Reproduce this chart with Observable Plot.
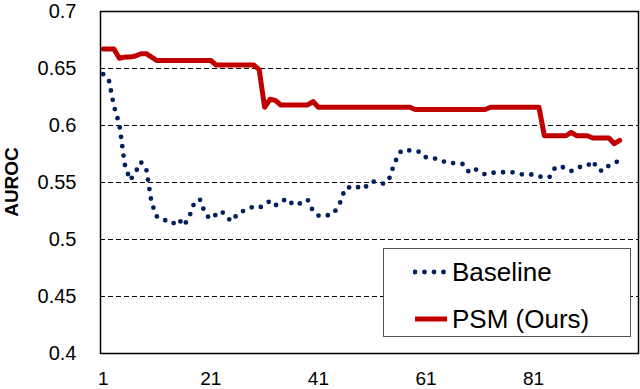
<!DOCTYPE html>
<html>
<head>
<meta charset="utf-8">
<script src="https://cdn.jsdelivr.net/npm/d3@7"></script>
<script src="https://cdn.jsdelivr.net/npm/@observablehq/plot@0.6"></script>
<style>
  html, body { margin: 0; padding: 0; background: #fff; }
  #wrap { position: relative; width: 640px; height: 389px; font-family: "Liberation Sans", Arial, sans-serif; }
  #wrap svg.plot { position: absolute; left: 0; top: 0; }
  #ylabel { position: absolute; left: 12px; top: 182px; transform: translate(-50%, -50%) rotate(-90deg);
            font-weight: bold; font-size: 19px; white-space: nowrap; color: #000; }
  #legend { position: absolute; left: 383px; top: 248px; width: 246px; height: 87px;
            border: 1px solid #555; background: #fff; box-sizing: content-box; }
  .row { position: absolute; left: 29px; height: 32px; display: flex; align-items: center; }
  .row span { font-size: 26px; color: #000; margin-left: 3px; white-space: nowrap; }
</style>
</head>
<body>
<div id="wrap"></div>
<script>
// ---- data ----
const epochs = [1,2,3,4,5,6,7,8,9,10,11,12,13,14,15,16,17,18,19,20,
  21,22,23,24,25,26,27,28,29,30,31,32,33,34,35,36,37,38,39,40,
  41,42,43,44,45,46,47,48,49,50,51,52,53,54,55,56,57,58,59,60,
  61,62,63,64,65,66,67,68,69,70,71,72,73,74,75,76,77,78,79,80,
  81,82,83,84,85,86,87,88,89,90,91,92,93,94,95,96,97];

const baseline = [0.645,0.641,0.617,0.601,0.566,0.552,0.559,0.568,0.562,0.532,
  0.520,0.519,0.515,0.514,0.518,0.512,0.520,0.533,0.535,0.522,
  0.518,0.522,0.525,0.519,0.516,0.523,0.525,0.527,0.529,0.528,
  0.530,0.534,0.530,0.532,0.536,0.532,0.530,0.533,0.535,0.525,
  0.521,0.522,0.521,0.524,0.532,0.545,0.546,0.547,0.544,0.547,
  0.551,0.550,0.549,0.551,0.565,0.576,0.579,0.578,0.577,0.577,
  0.572,0.571,0.571,0.569,0.567,0.567,0.567,0.566,0.559,0.562,
  0.560,0.557,0.558,0.559,0.559,0.559,0.559,0.558,0.557,0.557,
  0.557,0.5555,0.554,0.555,0.563,0.5645,0.562,0.560,0.563,0.564,
  0.5645,0.569,0.561,0.560,0.565,0.567,0.5695];

const psm = [0.667,0.667,0.667,0.659,0.660,0.660,0.661,0.663,0.663,0.660,
  0.657,0.657,0.657,0.657,0.657,0.657,0.657,0.657,0.657,0.657,
  0.657,0.653,0.653,0.653,0.653,0.653,0.653,0.653,0.653,0.649,
  0.616,0.623,0.622,0.618,0.618,0.618,0.618,0.618,0.618,0.621,
  0.616,0.616,0.616,0.616,0.616,0.616,0.616,0.616,0.616,0.616,
  0.616,0.616,0.616,0.616,0.616,0.616,0.616,0.616,0.614,0.614,
  0.614,0.614,0.614,0.614,0.614,0.614,0.614,0.614,0.614,0.614,
  0.614,0.614,0.616,0.616,0.616,0.616,0.616,0.616,0.616,0.616,
  0.616,0.616,0.591,0.591,0.591,0.591,0.591,0.594,0.591,0.591,
  0.591,0.589,0.589,0.589,0.589,0.584,0.587];

const xTicks = [1, 21, 41, 61, 81];
const yTicks = [0.4, 0.45, 0.5, 0.55, 0.6, 0.65, 0.7];
const gridLines = [0.45, 0.5, 0.55, 0.6, 0.65];
const seriesNames = ["Baseline", "PSM (Ours)"];
const seriesColors = ["#002060", "#C00000"];

const rowsB = epochs.map((e, i) => ({epoch: e, v: baseline[i]}));
const rowsP = epochs.map((e, i) => ({epoch: e, v: psm[i]}));

const chart = Plot.plot({
  width: 640,
  height: 389,
  marginTop: 11,
  marginBottom: 36,
  marginLeft: 100,
  marginRight: 2,
  style: {fontFamily: '"Liberation Sans", Arial, sans-serif', fontSize: "20px", color: "#000", background: "transparent"},
  x: {domain: [0.5, 100.5]},
  y: {domain: [0.4, 0.7]},
  marks: [
    Plot.ruleY(gridLines, {stroke: "#000", strokeWidth: 1.2, strokeDasharray: "5,3"}),
    Plot.line(rowsB, {x: "epoch", y: "v", stroke: seriesColors[0], strokeWidth: 4.8,
      strokeDasharray: "0,9.5", strokeLinecap: "round", strokeLinejoin: "round"}),
    Plot.line(rowsP, {x: "epoch", y: "v", stroke: seriesColors[1], strokeWidth: 5,
      strokeLinejoin: "round"}),
    Plot.frame({stroke: "#000", strokeWidth: 1.5}),
    Plot.axisX(xTicks, {tickSize: 0, tickPadding: 18, label: null, tickFormat: d => String(d), fontSize: 19}),
    Plot.axisY(yTicks, {tickSize: 0, tickPadding: 24, label: null, tickFormat: d => String(+d.toFixed(2)), fontSize: 20})
  ]
});
chart.classList.add("plot");
const wrap = document.getElementById("wrap");
wrap.appendChild(chart);

const yl = document.createElement("div");
yl.id = "ylabel";
yl.textContent = "AUROC";
wrap.appendChild(yl);

// legend
const leg = document.createElement("div");
leg.id = "legend";
const tops = [7, 54];
seriesNames.forEach((name, i) => {
  const row = document.createElement("div");
  row.className = "row";
  row.style.top = tops[i] + "px";
  const s = d3.create("svg").attr("width", 36).attr("height", 10);
  const ln = s.append("line").attr("x1", 2).attr("x2", 34).attr("y1", 5).attr("y2", 5)
    .attr("stroke", seriesColors[i]).attr("stroke-width", i === 0 ? 4.8 : 5);
  if (i === 0) ln.attr("stroke-dasharray", "0,9.5").attr("stroke-linecap", "round");
  row.appendChild(s.node());
  const sp = document.createElement("span");
  sp.textContent = name;
  row.appendChild(sp);
  leg.appendChild(row);
});
wrap.appendChild(leg);
</script>
</body>
</html>
